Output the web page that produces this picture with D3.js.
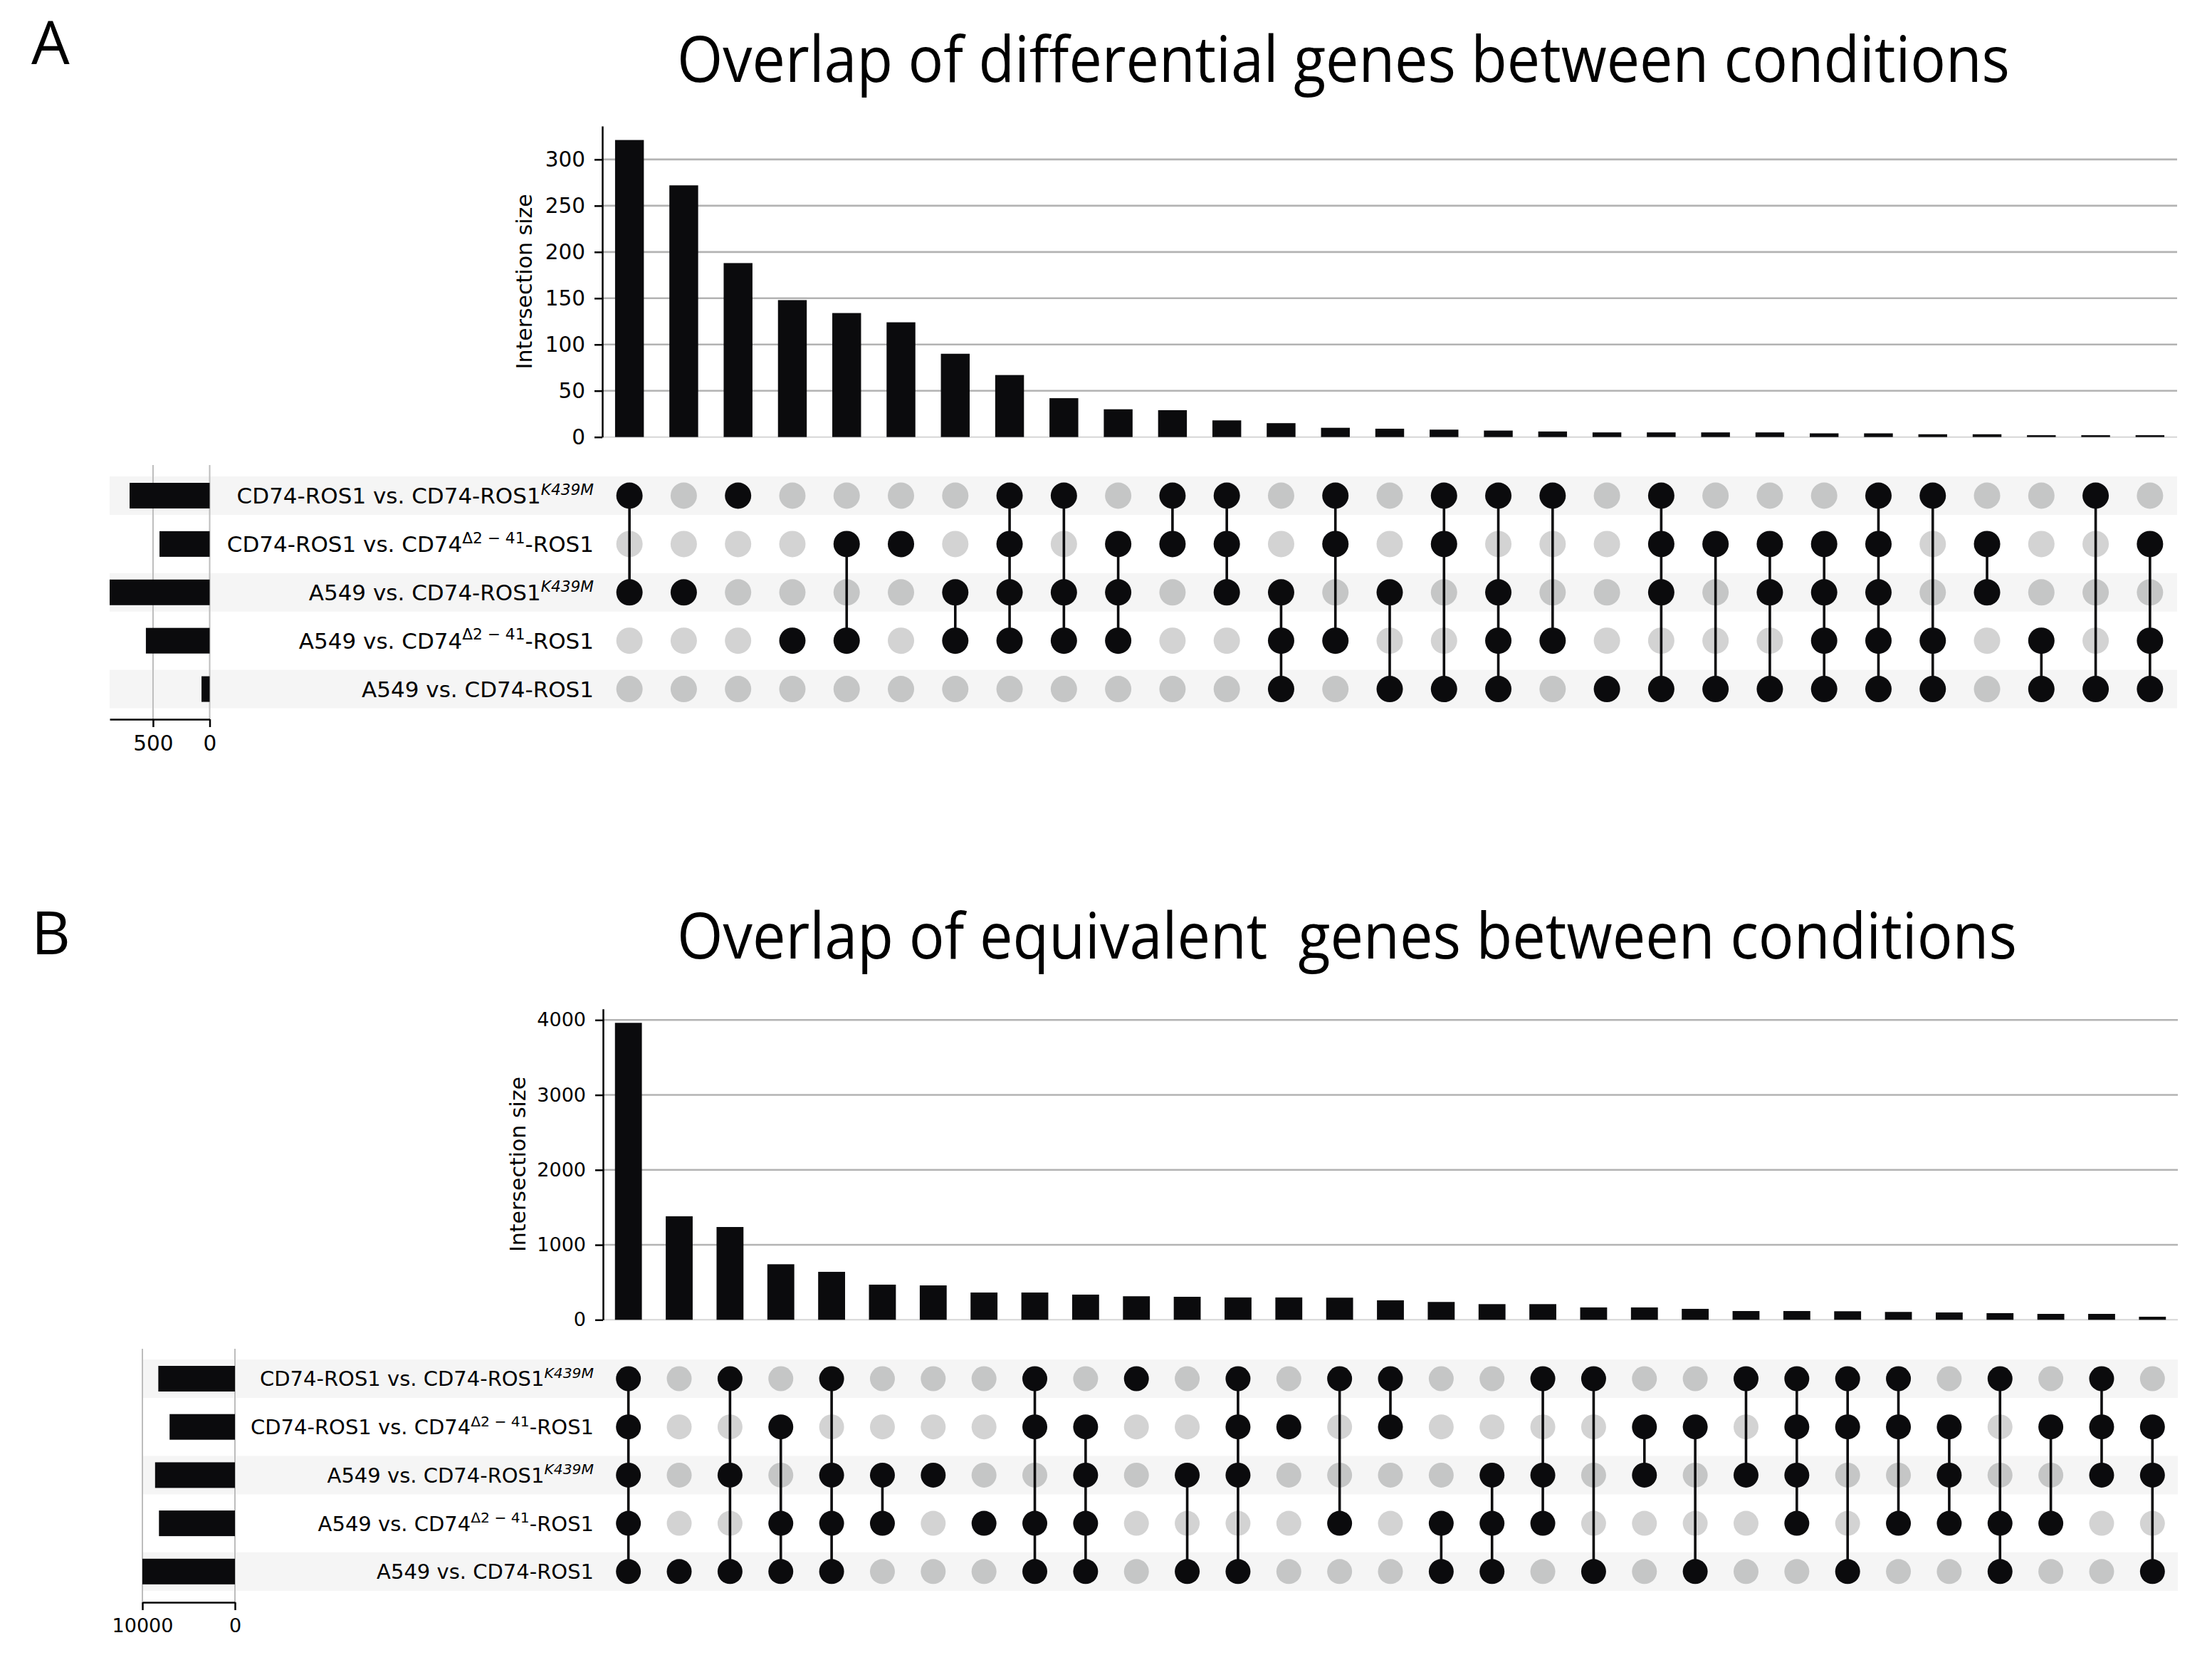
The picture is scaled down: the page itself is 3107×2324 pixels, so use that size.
<!DOCTYPE html>
<html>
<head>
<meta charset="utf-8">
<script src="https://cdn.jsdelivr.net/npm/d3@7"></script>
<style>
  body { margin: 0; background: #fff; }
  svg text { font-family: "DejaVu Sans", sans-serif; fill: #000; }
  .title, .panel-letter { font-family: "Open Sans", "Noto Sans", sans-serif; }
</style>
</head>
<body>
<svg id="fig" width="3107" height="2324"></svg>
<script>
// ---- data ----
// row labels of the matrix (top to bottom), superscripts as separate parts
const setLabels = [
  [{ t: "CD74-ROS1 vs. CD74-ROS1" }, { t: "K439M", sup: true, it: true }],
  [{ t: "CD74-ROS1 vs. CD74" }, { t: "Δ2 − 41", sup: true }, { t: "-ROS1" }],
  [{ t: "A549 vs. CD74-ROS1" }, { t: "K439M", sup: true, it: true }],
  [{ t: "A549 vs. CD74" }, { t: "Δ2 − 41", sup: true }, { t: "-ROS1" }],
  [{ t: "A549 vs. CD74-ROS1" }]
];

// panel A: differential genes
const diffSizes = [321, 272, 188, 148, 134, 124, 90, 67, 42, 30, 29, 18, 15, 10, 9,
                   8, 7, 6, 5, 5, 5, 5, 4, 4, 3, 3, 2, 2, 2];
const diffMembers = [[0,2],[2],[0],[3],[1,3],[1],[2,3],[0,1,2,3],[0,2,3],[1,2,3],
                     [0,1],[0,1,2],[2,3,4],[0,1,3],[2,4],[0,1,4],[0,2,3,4],[0,3],[4],
                     [0,1,2,4],[1,4],[1,2,4],[1,2,3,4],[0,1,2,3,4],[0,3,4],[1,2],[3,4],
                     [0,4],[1,3,4]];
const diffTotals = [707, 443, 883, 563, 72];
const diffTicks = [0, 50, 100, 150, 200, 250, 300];
const diffTotalTicks = [500, 0];

// panel B: equivalent genes
const equivSizes = [3962, 1381, 1238, 741, 640, 469, 459, 364, 364, 336, 314, 307, 298,
                    298, 295, 260, 238, 209, 209, 165, 165, 146, 117, 117, 114, 105, 98,
                    89, 79, 79, 41];
const equivMembers = [[0,1,2,3,4],[4],[0,2,4],[1,3,4],[0,2,3,4],[2,3],[2],[3],[0,1,3,4],
                      [1,2,3,4],[0],[2,4],[0,1,2,4],[1],[0,3],[0,1],[3,4],[2,3,4],[0,2,3],
                      [0,4],[1,2],[1,4],[0,2],[0,1,2,3],[0,1,4],[0,1,3],[1,2,3],[0,3,4],
                      [1,3],[0,1,2],[1,2,4]];
const equivTotals = [8280, 7060, 8630, 8210, 10000];
const equivTicks = [0, 1000, 2000, 3000, 4000];
const equivTotalTicks = [10000, 0];

// ---- drawing ----
const svg = d3.select('#fig');
const BLACK = '#0b0b0d';
const fmt = d3.format('d');

function drawPanel(cfg, sizes, members, totals, ticks, totalTicks) {
  const g = svg.append('g');
  const cols = d3.range(sizes.length);

  const x = d3.scaleBand().domain(cols).range([cfg.x0, cfg.x1])
      .paddingInner(0.47).paddingOuter(0.235);
  const y = d3.scaleLinear().domain([0, d3.max(sizes) * 1.047])
      .range([cfg.barBottom, cfg.barTop]);
  const rowY = d3.scalePoint().domain(d3.range(setLabels.length))
      .range([cfg.rowTop, cfg.rowTop + (setLabels.length - 1) * cfg.rowStep]);
  const tx = d3.scaleLinear().domain([0, d3.max(totals)])
      .range([cfg.setZero, cfg.setMax]);
  const cx = c => x(c) + x.bandwidth() / 2;

  // panel letter + title
  g.append('text').attr('class', 'panel-letter')
      .attr('x', 44).attr('y', cfg.letterY)
      .attr('font-size', 85).text(cfg.letter);
  g.append('text').attr('class', 'title')
      .attr('x', 951).attr('y', cfg.titleY)
      .attr('font-size', 90)
      .attr('textLength', cfg.titleLen).attr('lengthAdjust', 'spacingAndGlyphs')
      .text(cfg.title);

  // horizontal grid
  g.selectAll('.grid').data(ticks).enter().append('line')
      .attr('x1', cfg.x0).attr('x2', cfg.x1)
      .attr('y1', d => y(d)).attr('y2', d => y(d))
      .attr('stroke', d => d === 0 ? '#d6d6d6' : '#b3b3b3')
      .attr('stroke-width', d => d === 0 ? 2 : 2.6);

  // intersection bars
  g.selectAll('.bar').data(sizes).enter().append('rect')
      .attr('x', (d, i) => x(i)).attr('width', x.bandwidth())
      .attr('y', d => y(d)).attr('height', d => y(0) - y(d))
      .attr('fill', BLACK);

  // y axis
  const yAxis = g.append('g')
      .attr('transform', `translate(${cfg.x0},0)`)
      .call(d3.axisLeft(y).tickValues(ticks).tickFormat(fmt)
        .tickSize(11).tickSizeOuter(0).tickPadding(13));
  yAxis.selectAll('path, line').attr('stroke', '#000').attr('stroke-width', 2.5);
  yAxis.selectAll('text').attr('font-size', cfg.tickFont)
      .attr('font-family', '"DejaVu Sans", sans-serif').attr('fill', '#000');

  g.append('text')
      .attr('transform', `translate(${cfg.ylabelX},${(cfg.barTop + cfg.barBottom) / 2}) rotate(-90)`)
      .attr('text-anchor', 'middle').attr('font-size', 30)
      .text('Intersection size');

  // row shading
  g.selectAll('.stripe').data(d3.range(setLabels.length).filter(r => r % 2 === 0))
      .enter().append('rect')
      .attr('x', cfg.setMax).attr('width', cfg.x1 - cfg.setMax)
      .attr('y', r => rowY(r) - 27).attr('height', 54)
      .attr('fill', '#f5f5f5');

  // totals grid
  g.selectAll('.vgrid').data(totalTicks).enter().append('line')
      .attr('x1', d => tx(d)).attr('x2', d => tx(d))
      .attr('y1', cfg.setGridTop).attr('y2', cfg.setAxisY)
      .attr('stroke', '#bdbdbd').attr('stroke-width', 2);

  // totals bars
  g.selectAll('.tbar').data(totals).enter().append('rect')
      .attr('x', d => tx(d)).attr('width', d => tx(0) - tx(d))
      .attr('y', (d, i) => rowY(i) - 18).attr('height', 36)
      .attr('fill', BLACK);

  const tAxis = g.append('g')
      .attr('transform', `translate(0,${cfg.setAxisY})`)
      .call(d3.axisBottom(tx).tickValues(totalTicks).tickFormat(fmt)
        .tickSize(11).tickSizeOuter(0).tickPadding(12));
  tAxis.selectAll('path, line').attr('stroke', '#000').attr('stroke-width', 2.5);
  tAxis.selectAll('text').attr('font-size', cfg.tickFont)
      .attr('font-family', '"DejaVu Sans", sans-serif').attr('fill', '#000');

  // row labels
  setLabels.forEach((parts, r) => {
    const t = g.append('text')
        .attr('x', cfg.labelRight).attr('y', rowY(r) + cfg.labelFont * 0.36)
        .attr('text-anchor', 'end').attr('font-size', cfg.labelFont);
    let shifted = false;
    parts.forEach(p => {
      const s = t.append('tspan').text(p.t);
      if (p.sup) {
        s.attr('font-size', cfg.labelFont * 0.7).attr('dy', -cfg.labelFont * 0.4);
        if (p.it) s.attr('font-style', 'italic');
        shifted = true;
      } else if (shifted) {
        s.attr('dy', cfg.labelFont * 0.4);
        shifted = false;
      }
    });
  });

  // matrix: grey dots, connectors, black dots
  const cells = [];
  cols.forEach(c => setLabels.forEach((_, r) => cells.push({ c, r, on: members[c].includes(r) })));

  g.selectAll('.off').data(cells.filter(d => !d.on)).enter().append('circle')
      .attr('cx', d => cx(d.c)).attr('cy', d => rowY(d.r)).attr('r', cfg.dotR)
      .attr('fill', d => d.r % 2 === 0 ? '#c5c6c6' : '#d3d3d3');

  g.selectAll('.link').data(cols.filter(c => members[c].length > 1)).enter().append('line')
      .attr('x1', c => cx(c)).attr('x2', c => cx(c))
      .attr('y1', c => rowY(d3.min(members[c]))).attr('y2', c => rowY(d3.max(members[c])))
      .attr('stroke', BLACK).attr('stroke-width', 3.6);

  g.selectAll('.on').data(cells.filter(d => d.on)).enter().append('circle')
      .attr('cx', d => cx(d.c)).attr('cy', d => rowY(d.r)).attr('r', cfg.dotR)
      .attr('fill', BLACK);
}

drawPanel({
  letter: 'A', letterY: 90,
  title: 'Overlap of differential genes between conditions', titleY: 115, titleLen: 1872,
  x0: 846, x1: 3058, barTop: 177, barBottom: 613.7, ylabelX: 747,
  rowTop: 696, rowStep: 67.9,
  setZero: 294.5, setMax: 154, setAxisY: 1010, setGridTop: 653,
  labelRight: 834, labelFont: 31, tickFont: 29.5, dotR: 18.5
}, diffSizes, diffMembers, diffTotals, diffTicks, diffTotalTicks);

drawPanel({
  letter: 'B', letterY: 1340,
  title: 'Overlap of equivalent\u00A0 genes between conditions', titleY: 1346, titleLen: 1882,
  x0: 847, x1: 3059, barTop: 1416.7, barBottom: 1853.3, ylabelX: 738,
  rowTop: 1936, rowStep: 67.7,
  setZero: 330, setMax: 200, setAxisY: 2250, setGridTop: 1894,
  labelRight: 834, labelFont: 29, tickFont: 27, dotR: 17.5
}, equivSizes, equivMembers, equivTotals, equivTicks, equivTotalTicks);
</script>
</body>
</html>
